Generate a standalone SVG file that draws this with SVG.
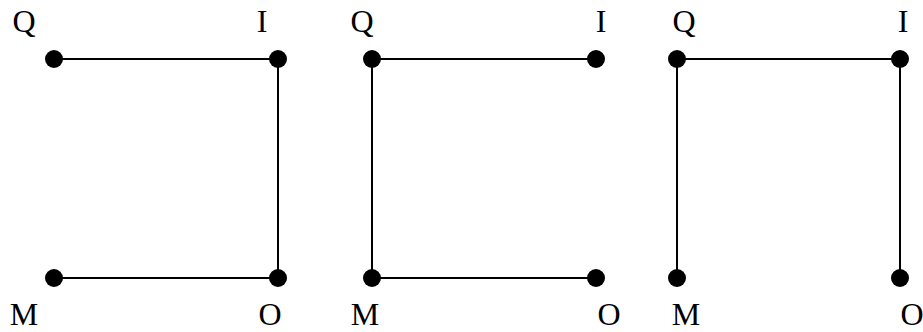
<svg xmlns="http://www.w3.org/2000/svg" width="923" height="332" viewBox="0 0 923 332">
<style>
.e{stroke:#000;stroke-width:2;fill:none}
.n{fill:#000}
text{font-family:'Liberation Serif','Times New Roman','DejaVu Serif',serif;font-size:32px;fill:#000;text-anchor:middle}
</style>
<rect width="923" height="332" fill="#fff"/>
<g id="connectors">
<line class="e" x1="54" y1="59" x2="278" y2="59"/>
<line class="e" x1="278" y1="59" x2="278" y2="278"/>
<line class="e" x1="54" y1="278" x2="278" y2="278"/>
<line class="e" x1="372" y1="59" x2="596" y2="59"/>
<line class="e" x1="372" y1="59" x2="372" y2="278"/>
<line class="e" x1="372" y1="278" x2="596" y2="278"/>
<line class="e" x1="677" y1="59" x2="900" y2="59"/>
<line class="e" x1="677" y1="59" x2="677" y2="278"/>
<line class="e" x1="900" y1="59" x2="900" y2="278"/>
</g>
<g id="g1-Q"><circle class="n" cx="54" cy="59" r="9"/><text x="24" y="32">Q</text></g>
<g id="g1-I"><circle class="n" cx="278" cy="59" r="9"/><text x="262" y="32">I</text></g>
<g id="g1-M"><circle class="n" cx="54" cy="278" r="9"/><text x="24" y="325">M</text></g>
<g id="g1-O"><circle class="n" cx="278" cy="278" r="9"/><text x="270" y="325">O</text></g>
<g id="g2-Q"><circle class="n" cx="372" cy="59" r="9"/><text x="362" y="32">Q</text></g>
<g id="g2-I"><circle class="n" cx="596" cy="59" r="9"/><text x="601" y="32">I</text></g>
<g id="g2-M"><circle class="n" cx="372" cy="278" r="9"/><text x="365" y="325">M</text></g>
<g id="g2-O"><circle class="n" cx="596" cy="278" r="9"/><text x="609" y="325">O</text></g>
<g id="g3-Q"><circle class="n" cx="677" cy="59" r="9"/><text x="684" y="32">Q</text></g>
<g id="g3-I"><circle class="n" cx="900" cy="59" r="9"/><text x="903" y="32">I</text></g>
<g id="g3-M"><circle class="n" cx="677" cy="278" r="9"/><text x="686" y="325">M</text></g>
<g id="g3-O"><circle class="n" cx="900" cy="278" r="9"/><text x="912" y="325">O</text></g>
</svg>
